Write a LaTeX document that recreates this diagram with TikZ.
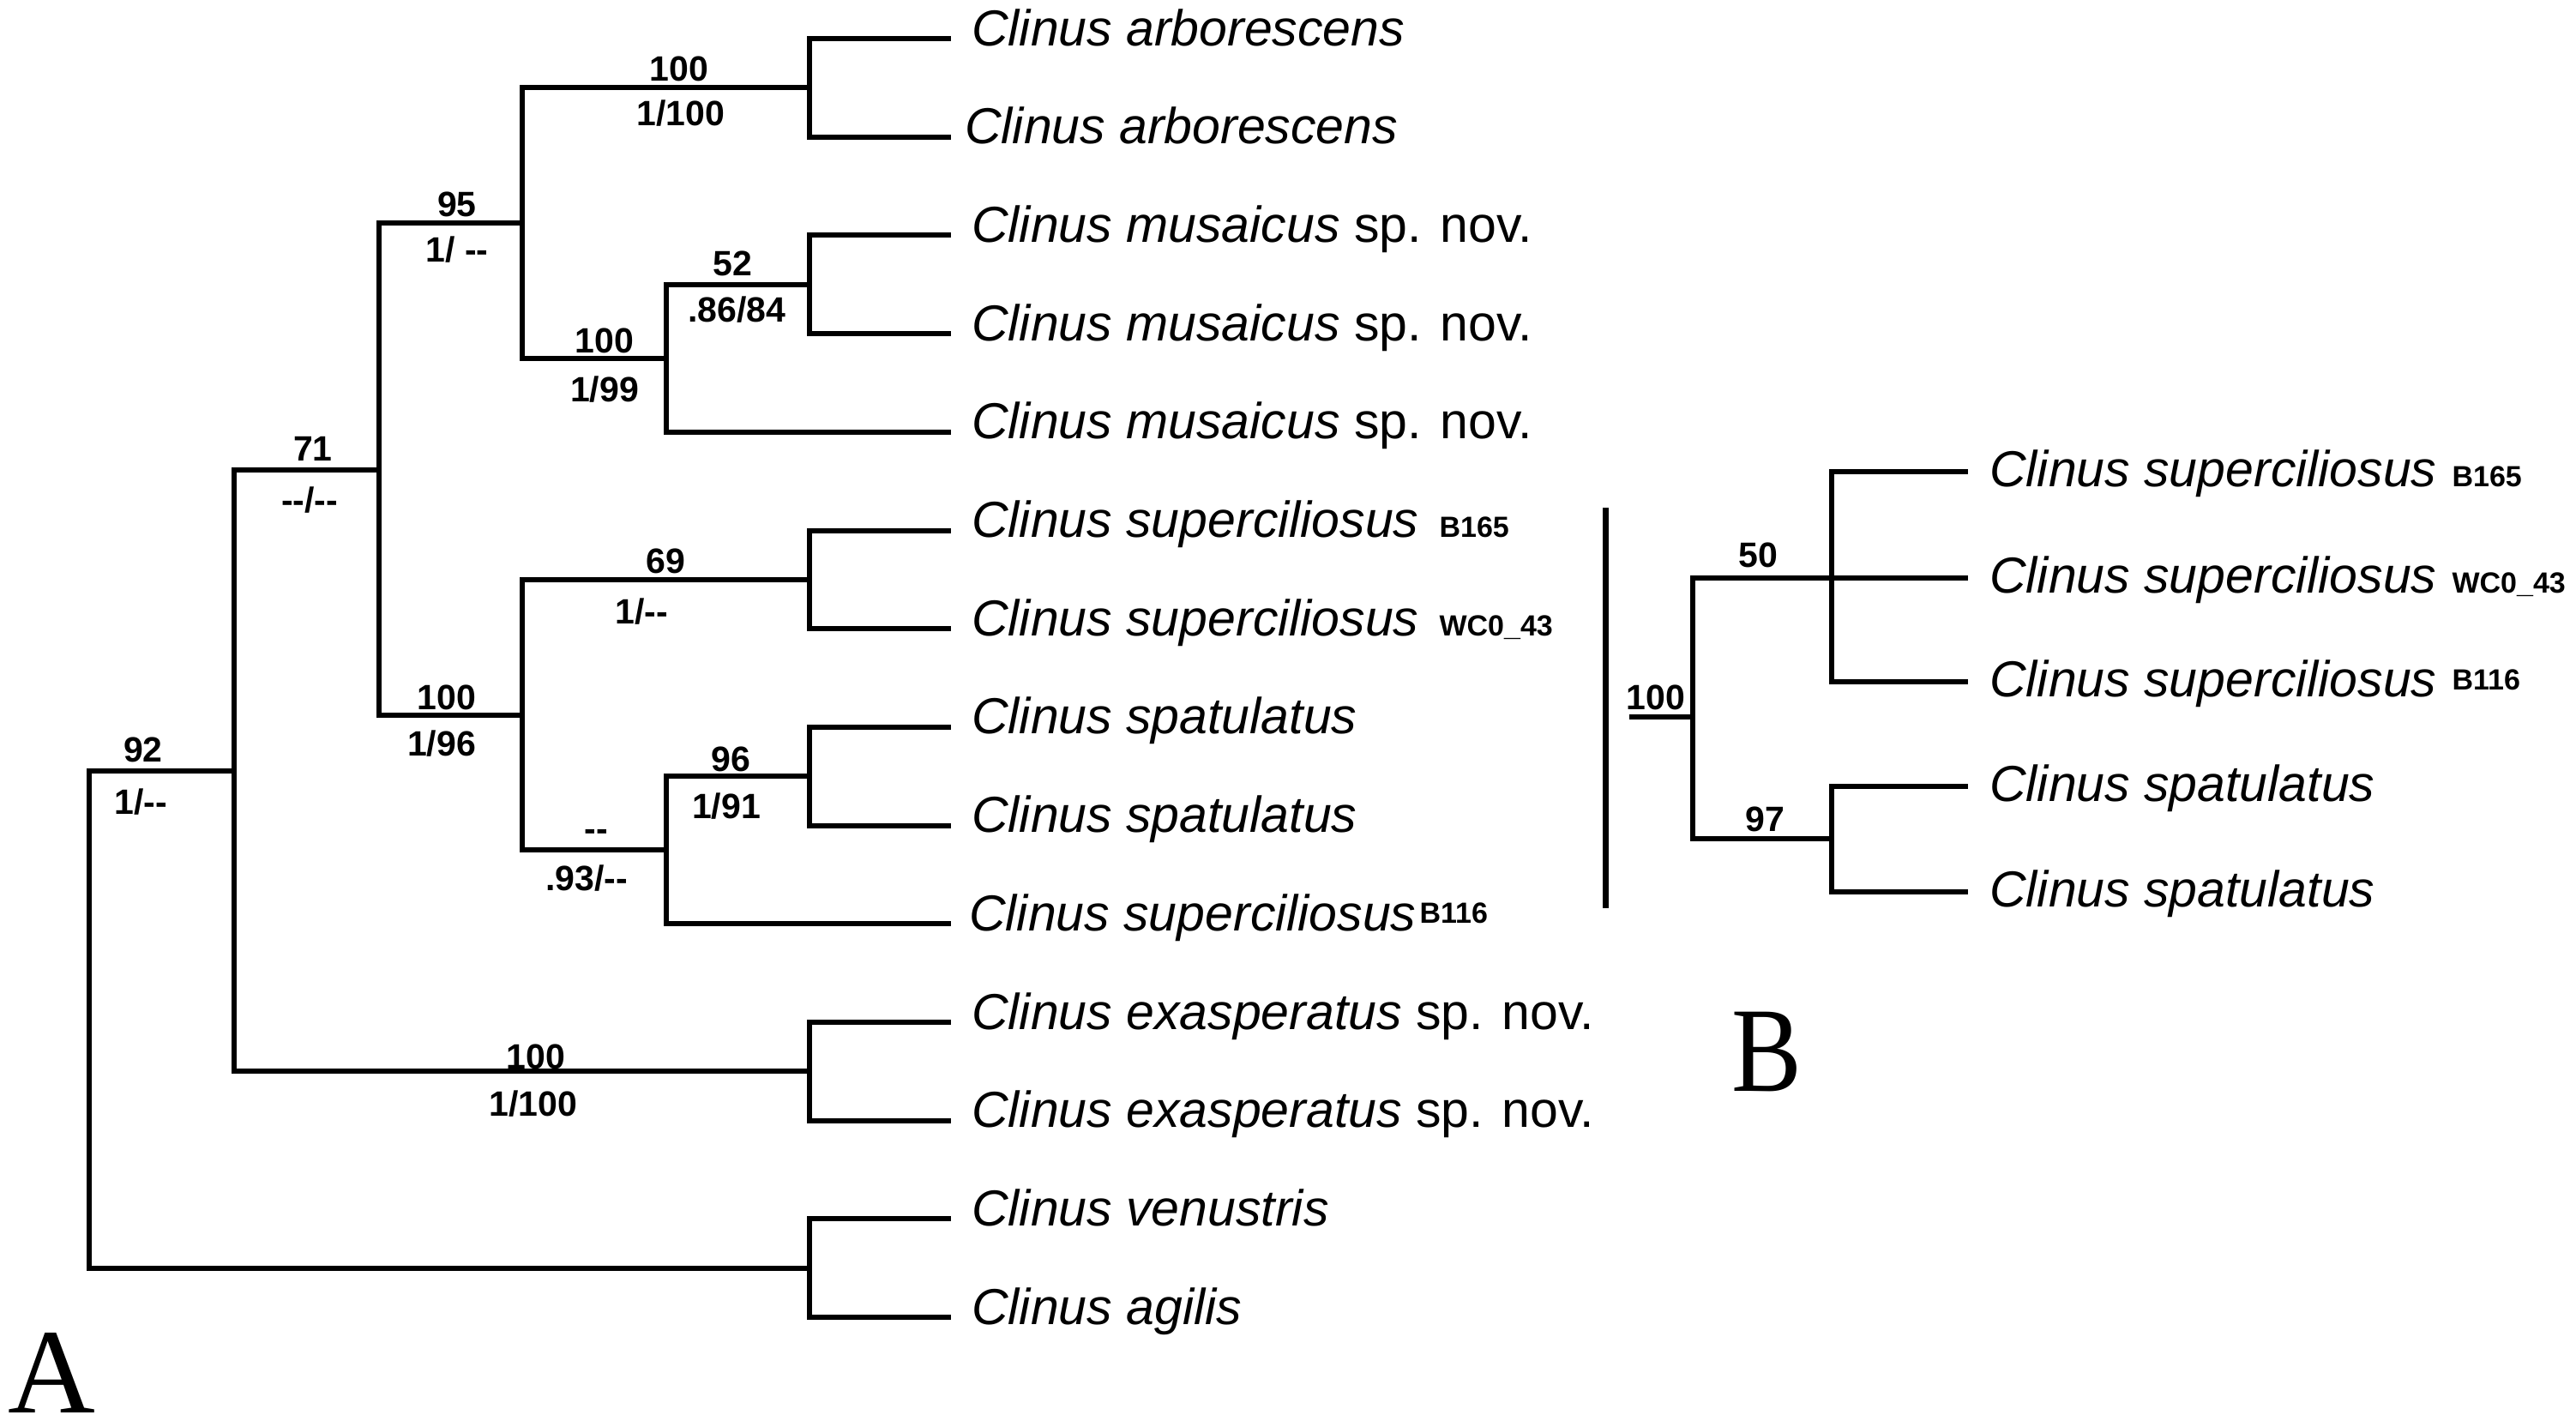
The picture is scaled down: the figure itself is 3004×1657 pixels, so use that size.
\documentclass[tikz,border=0pt]{standalone}
\usepackage{fontspec}
\setmainfont{Liberation Sans}
\newfontfamily\serifA{Liberation Serif}
\usepackage{graphicx}
\begin{document}
\begin{tikzpicture}[x=1pt,y=-1pt,
  br/.style={line width=6pt, line join=miter},
  barline/.style={line width=7pt},
  tip/.style={anchor=base west, inner sep=0pt, font=\fontsize{59}{59}\selectfont},
  num/.style={anchor=base, inner sep=0pt, font=\bfseries\fontsize{41}{41}\selectfont},
  panel/.style={anchor=base west, inner sep=0pt, font=\serifA\fontsize{141}{141}\selectfont}]
\useasboundingbox (0,0) rectangle (3004,1657);
\newcommand{\sx}[1]{{\bfseries\fontsize{34}{34}\selectfont #1}}
% ---------- Panel A: tip coordinates ----------
\coordinate (t1) at (1109,45);
\coordinate (t2) at (1109,159.7);
\coordinate (t3) at (1109,274.4);
\coordinate (t4) at (1109,389.1);
\coordinate (t5) at (1109,503.8);
\coordinate (t6) at (1109,618.5);
\coordinate (t7) at (1109,733.2);
\coordinate (t8) at (1109,847.9);
\coordinate (t9) at (1109,962.6);
\coordinate (t10) at (1109,1077.3);
\coordinate (t11) at (1109,1192);
\coordinate (t12) at (1109,1306.7);
\coordinate (t13) at (1109,1421.4);
\coordinate (t14) at (1109,1536.1);
% internal nodes
\coordinate (root) at (104,1189);
\coordinate (n92) at (273,899);
\coordinate (n71) at (442,548);
\coordinate (n95) at (609,260.1);
\coordinate (n100b) at (609,833.6);
\coordinate (nArb) at (944,102.35);
\coordinate (nMus) at (777,417.8);
\coordinate (n52) at (944,331.75);
\coordinate (n69) at (944,675.9);
\coordinate (nDash) at (777,991.3);
\coordinate (n96) at (944,905.3);
\coordinate (nEx) at (944,1249.4);
\coordinate (nOut) at (944,1478.8);
% edges
\draw[br] (root) |- (n92);
\draw[br] (root) |- (nOut);
\draw[br] (n92) |- (n71);
\draw[br] (n92) |- (nEx);
\draw[br] (n71) |- (n95);
\draw[br] (n71) |- (n100b);
\draw[br] (n95) |- (nArb);
\draw[br] (n95) |- (nMus);
\draw[br] (nArb) |- (t1);
\draw[br] (nArb) |- (t2);
\draw[br] (nMus) |- (n52);
\draw[br] (nMus) |- (t5);
\draw[br] (n52) |- (t3);
\draw[br] (n52) |- (t4);
\draw[br] (n100b) |- (n69);
\draw[br] (n100b) |- (nDash);
\draw[br] (n69) |- (t6);
\draw[br] (n69) |- (t7);
\draw[br] (nDash) |- (n96);
\draw[br] (nDash) |- (t10);
\draw[br] (n96) |- (t8);
\draw[br] (n96) |- (t9);
\draw[br] (nEx) |- (t11);
\draw[br] (nEx) |- (t12);
\draw[br] (nOut) |- (t13);
\draw[br] (nOut) |- (t14);
% tip labels
\node[tip] (L1) at (1133,53) {\textit{Clinus arborescens}};
\node[tip] (L2) at (1125,167.7) {\textit{Clinus arborescens}};
\node[tip] (L3) at (1133,282.4) {\textit{Clinus musaicus} sp. nov.};
\node[tip] (L4) at (1133,397.1) {\textit{Clinus musaicus} sp. nov.};
\node[tip] (L5) at (1133,511.8) {\textit{Clinus musaicus} sp. nov.};
\node[tip] (L6) at (1133,626.5) {\textit{Clinus superciliosus}\hspace{24pt}\sx{B165}};
\node[tip] (L7) at (1133,741.2) {\textit{Clinus superciliosus}\hspace{24pt}\sx{WC0\_43}};
\node[tip] (L8) at (1133,855.9) {\textit{Clinus spatulatus}};
\node[tip] (L9) at (1133,970.6) {\textit{Clinus spatulatus}};
\node[tip] (L10) at (1130,1085.3) {\textit{Clinus superciliosus}\hspace{4pt}\raisebox{9pt}{\sx{B116}}};
\node[tip] (L11) at (1133,1200) {\textit{Clinus exasperatus} sp. nov.};
\node[tip] (L12) at (1133,1314.7) {\textit{Clinus exasperatus} sp. nov.};
\node[tip] (L13) at (1133,1429.4) {\textit{Clinus venustris}};
\node[tip] (L14) at (1133,1544.1) {\textit{Clinus agilis}};
% support values
\node[num] (s1a) at (792,94) {100};
\node[num] (s1b) at (794,146) {1/100};
\node[num] (s2a) at (533,252) {95};
\node[num] (s2b) at (533,305) {1/ -{}-};
\node[num] (s3a) at (705,411) {100};
\node[num] (s3b) at (705,468) {1/99};
\node[num] (s4a) at (854,321) {52};
\node[num] (s4b) at (859,375) {.86/84};
\node[num] (s5a) at (365,537) {71};
\node[num] (s5b) at (361,597) {-{}-/-{}-};
\node[num] (s6a) at (521,827) {100};
\node[num] (s6b) at (515,881) {1/96};
\node[num] (s7a) at (776,668) {69};
\node[num] (s7b) at (748,727) {1/-{}-};
\node[num] (s8a) at (167,888) {92};
\node[num] (s8b) at (164,949) {1/-{}-};
\node[num] (s9a) at (695,980) {-{}-};
\node[num] (s9b) at (684,1038) {.93/-{}-};
\node[num] (s10a) at (852,899) {96};
\node[num] (s10b) at (847,954) {1/91};
\node[num] (s11a) at (625,1246) {100};
\node[num] (s11b) at (622,1301) {1/100};
\node[panel] (pA) at (9,1647) {\raisebox{0pt}[\height][0pt]{A}};
% ---------- Panel B ----------
\coordinate (barT) at (1872,592);
\coordinate (barB) at (1872,1059);
\draw[barline] (barT) -- (barB);
\coordinate (bS) at (1900,836);
\coordinate (nB100) at (1974,836);
\coordinate (nB50) at (2136,674);
\coordinate (nB97) at (2136,978);
\coordinate (u1) at (2295,550);
\coordinate (u2) at (2295,674);
\coordinate (u3) at (2295,795);
\coordinate (u4) at (2295,917);
\coordinate (u5) at (2295,1040);
\draw[br] (bS) -- (nB100);
\draw[br] (nB100) |- (nB50);
\draw[br] (nB100) |- (nB97);
\draw[br] (nB50) |- (u1);
\draw[br] (nB50) |- (u2);
\draw[br] (nB50) |- (u3);
\draw[br] (nB97) |- (u4);
\draw[br] (nB97) |- (u5);
\node[tip] (M1) at (2320,567) {\textit{Clinus superciliosus}\hspace{18pt}\sx{B165}};
\node[tip] (M2) at (2320,691) {\textit{Clinus superciliosus}\hspace{18pt}\sx{WC0\_43}};
\node[tip] (M3) at (2320,812) {\textit{Clinus superciliosus}\hspace{18pt}\raisebox{8pt}{\sx{B116}}};
\node[tip] (M4) at (2320,934) {\textit{Clinus spatulatus}};
\node[tip] (M5) at (2320,1057) {\textit{Clinus spatulatus}};
\node[num] (b1) at (1931,827) {100};
\node[num] (b2) at (2050,661) {50};
\node[num] (b3) at (2058,969) {97};
\node[panel] (pB) at (2019,1272) {\scalebox{0.87}[1]{B}};
\end{tikzpicture}
\end{document}
